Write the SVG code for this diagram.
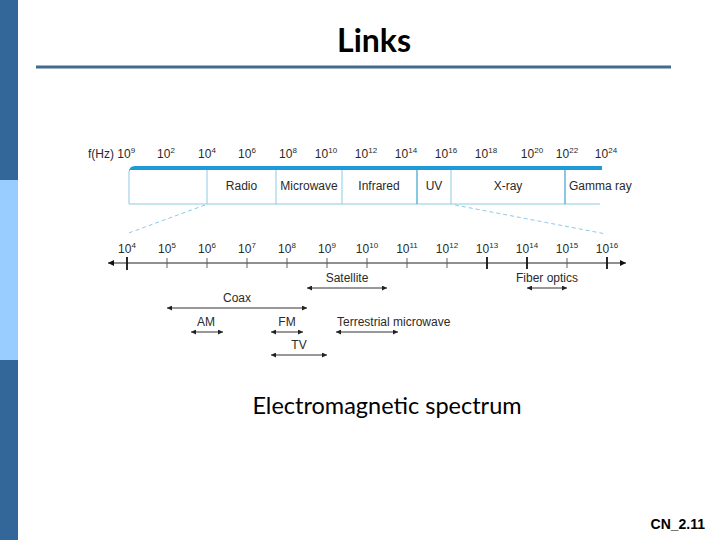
<svg xmlns="http://www.w3.org/2000/svg" width="720" height="540" viewBox="0 0 720 540">
<defs>
<style>
.lbl{font-family:"Liberation Sans",Arial,sans-serif;font-size:12px;fill:#2a2a2a}
.sup{font-size:8px}
.ax{stroke:#222;stroke-width:1.2;fill:none}
.tk{stroke:#555;stroke-width:0.9}
.tkb{stroke:#111;stroke-width:1.8}
.rng{stroke:#333;stroke-width:1;fill:none;marker-start:url(#ah);marker-end:url(#ah)}
.box{stroke:#8ccbe3;stroke-width:1;fill:none}
.div{stroke:#3aa2cf;stroke-width:1.2}
.dash{stroke:#8ccbe3;stroke-width:1;stroke-dasharray:4 3;fill:none}
</style>
<marker id="ah" viewBox="0 0 10 10" refX="10" refY="5" markerWidth="7" markerHeight="5" markerUnits="userSpaceOnUse" orient="auto-start-reverse">
<path d="M0,0 L10,5 L0,10 z" fill="#222"/>
</marker>
<marker id="axh" viewBox="0 0 10 10" refX="10" refY="5" markerWidth="9" markerHeight="6" markerUnits="userSpaceOnUse" orient="auto-start-reverse">
<path d="M0,0 L10,5 L0,10 z" fill="#111"/>
</marker>
</defs>
<rect width="720" height="540" fill="#fff"/>
<g id="sidebar">
<rect x="0" y="0" width="18" height="180" fill="#336699"/>
<rect x="0" y="180" width="18" height="180" fill="#99ccff"/>
<rect x="0" y="360" width="18" height="180" fill="#336699"/>
</g>
<g id="title">
<text x="374" y="52" text-anchor="middle" font-family="Lato,'Open Sans',sans-serif" font-weight="bold" font-size="32" fill="#000">Links</text>
<line x1="36" y1="67" x2="671" y2="67" stroke="#436b8f" stroke-width="3"/>
</g>
<g id="spectrum-bar">
<path d="M129,204 V172 Q129,168 133,168" class="box"/>
<line x1="129" y1="204" x2="600" y2="204" class="box"/>
<path d="M129,172 Q129,166 135,166 H602 V170 H129 z" fill="#1e9ad6"/>
<line x1="207" y1="170" x2="207" y2="204" class="box"/>
<line x1="276" y1="170" x2="276" y2="204" class="box"/>
<line x1="342" y1="170" x2="342" y2="204" class="box"/>
<line x1="417" y1="170" x2="417" y2="204" class="div"/>
<line x1="451" y1="170" x2="451" y2="204" class="box"/>
<line x1="565" y1="170" x2="565" y2="204" class="div"/>
<text class="lbl" x="241.5" y="190" text-anchor="middle">Radio</text>
<text class="lbl" x="309" y="190" text-anchor="middle">Microwave</text>
<text class="lbl" x="379" y="190" text-anchor="middle">Infrared</text>
<text class="lbl" x="434" y="190" text-anchor="middle">UV</text>
<text class="lbl" x="508" y="190" text-anchor="middle">X-ray</text>
<text class="lbl" x="569" y="190">Gamma ray</text>
</g>
<g id="top-scale">
<text class="lbl" x="88" y="158">f(Hz) 10<tspan class="sup" dy="-5">9</tspan></text>
<text class="lbl" x="166" y="158" text-anchor="middle">10<tspan class="sup" dy="-5">2</tspan></text>
<text class="lbl" x="207" y="158" text-anchor="middle">10<tspan class="sup" dy="-5">4</tspan></text>
<text class="lbl" x="247" y="158" text-anchor="middle">10<tspan class="sup" dy="-5">6</tspan></text>
<text class="lbl" x="288" y="158" text-anchor="middle">10<tspan class="sup" dy="-5">8</tspan></text>
<text class="lbl" x="326" y="158" text-anchor="middle">10<tspan class="sup" dy="-5">10</tspan></text>
<text class="lbl" x="366" y="158" text-anchor="middle">10<tspan class="sup" dy="-5">12</tspan></text>
<text class="lbl" x="406" y="158" text-anchor="middle">10<tspan class="sup" dy="-5">14</tspan></text>
<text class="lbl" x="446" y="158" text-anchor="middle">10<tspan class="sup" dy="-5">16</tspan></text>
<text class="lbl" x="486" y="158" text-anchor="middle">10<tspan class="sup" dy="-5">18</tspan></text>
<text class="lbl" x="532" y="158" text-anchor="middle">10<tspan class="sup" dy="-5">20</tspan></text>
<text class="lbl" x="567" y="158" text-anchor="middle">10<tspan class="sup" dy="-5">22</tspan></text>
<text class="lbl" x="606" y="158" text-anchor="middle">10<tspan class="sup" dy="-5">24</tspan></text>
</g>
<g id="zoom-lines">
<line x1="205" y1="205" x2="126" y2="234" class="dash"/>
<line x1="455" y1="205" x2="606" y2="234" class="dash"/>
</g>
<g id="bottom-scale">
<line x1="108" y1="263" x2="626" y2="263" class="ax" marker-start="url(#axh)" marker-end="url(#axh)"/>
<line x1="127" y1="257" x2="127" y2="270" class="tkb"/>
<line x1="167" y1="258" x2="167" y2="268" class="tk"/>
<line x1="207" y1="258" x2="207" y2="268" class="tk"/>
<line x1="247" y1="258" x2="247" y2="268" class="tk"/>
<line x1="287" y1="258" x2="287" y2="268" class="tk"/>
<line x1="327" y1="258" x2="327" y2="268" class="tk"/>
<line x1="367" y1="258" x2="367" y2="268" class="tk"/>
<line x1="407" y1="258" x2="407" y2="268" class="tk"/>
<line x1="447" y1="258" x2="447" y2="268" class="tk"/>
<line x1="487" y1="257" x2="487" y2="269" class="tkb"/>
<line x1="527" y1="257" x2="527" y2="269" class="tkb"/>
<line x1="567" y1="258" x2="567" y2="268" class="tk"/>
<line x1="607" y1="257" x2="607" y2="269" class="tkb"/>
<text class="lbl" x="127" y="253" text-anchor="middle">10<tspan class="sup" dy="-5">4</tspan></text>
<text class="lbl" x="167" y="253" text-anchor="middle">10<tspan class="sup" dy="-5">5</tspan></text>
<text class="lbl" x="207" y="253" text-anchor="middle">10<tspan class="sup" dy="-5">6</tspan></text>
<text class="lbl" x="247" y="253" text-anchor="middle">10<tspan class="sup" dy="-5">7</tspan></text>
<text class="lbl" x="287" y="253" text-anchor="middle">10<tspan class="sup" dy="-5">8</tspan></text>
<text class="lbl" x="327" y="253" text-anchor="middle">10<tspan class="sup" dy="-5">9</tspan></text>
<text class="lbl" x="367" y="253" text-anchor="middle">10<tspan class="sup" dy="-5">10</tspan></text>
<text class="lbl" x="407" y="253" text-anchor="middle">10<tspan class="sup" dy="-5">11</tspan></text>
<text class="lbl" x="447" y="253" text-anchor="middle">10<tspan class="sup" dy="-5">12</tspan></text>
<text class="lbl" x="487" y="253" text-anchor="middle">10<tspan class="sup" dy="-5">13</tspan></text>
<text class="lbl" x="527" y="253" text-anchor="middle">10<tspan class="sup" dy="-5">14</tspan></text>
<text class="lbl" x="567" y="253" text-anchor="middle">10<tspan class="sup" dy="-5">15</tspan></text>
<text class="lbl" x="607" y="253" text-anchor="middle">10<tspan class="sup" dy="-5">16</tspan></text>
</g>
<g id="satellite">
<text class="lbl" x="347" y="282" text-anchor="middle">Satellite</text>
<line x1="307" y1="288" x2="387" y2="288" class="rng"/>
</g>
<g id="fiber-optics">
<text class="lbl" x="547" y="282" text-anchor="middle">Fiber optics</text>
<line x1="527" y1="288" x2="567" y2="288" class="rng"/>
</g>
<g id="coax">
<text class="lbl" x="237" y="302" text-anchor="middle">Coax</text>
<line x1="167" y1="308" x2="307" y2="308" class="rng"/>
</g>
<g id="am">
<text class="lbl" x="206" y="326" text-anchor="middle">AM</text>
<line x1="191" y1="332" x2="223" y2="332" class="rng"/>
</g>
<g id="fm">
<text class="lbl" x="287" y="326" text-anchor="middle">FM</text>
<line x1="271" y1="332" x2="303" y2="332" class="rng"/>
</g>
<g id="terrestrial-microwave">
<text class="lbl" x="337" y="326">Terrestrial microwave</text>
<line x1="336" y1="332" x2="398" y2="332" class="rng"/>
</g>
<g id="tv">
<text class="lbl" x="299" y="349" text-anchor="middle">TV</text>
<line x1="271" y1="355" x2="327" y2="355" class="rng"/>
</g>
<g id="caption">
<text x="387" y="414" text-anchor="middle" font-family="Lato,'Open Sans',sans-serif" font-size="23.5" fill="#000">Electromagnetic spectrum</text>
<text x="705" y="529" text-anchor="end" font-family="'Liberation Sans',Arial,sans-serif" font-weight="bold" font-size="14" fill="#000">CN_2.11</text>
</g>
</svg>
